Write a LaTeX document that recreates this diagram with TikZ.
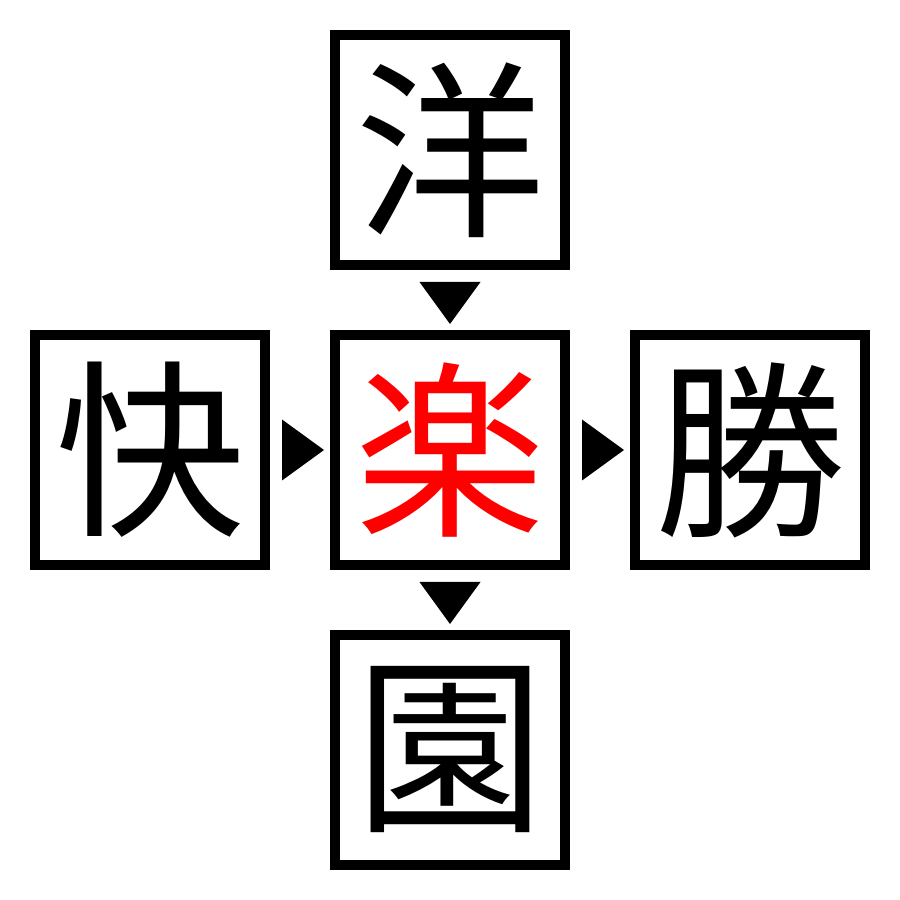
\documentclass[tikz,border=0pt]{standalone}
\usepackage{fontspec}
\newfontfamily\jpfont{Noto Sans CJK JP}
\usetikzlibrary{calc}
\tikzset{
	kanji/.style={draw, line width=0.1cm, minimum size=2.3cm, inner sep=0, outer sep=0,
		font=\jpfont\fontsize{54}{54}\selectfont}
}
\begin{document}
\begin{tikzpicture}[x=0.01cm, y=0.01cm]
		\useasboundingbox (0,0) rectangle (900,900);

		\node[kanji] (Y) at (450, 750) {洋};
		\node[kanji] (K) at (150, 450) {快};
		\node[kanji, text=red] (R) at (450, 450) {楽};
		\node[kanji] (S) at (750, 450) {勝};
		\node[kanji] (E) at (450, 150) {園};

		\foreach \source/\dest/\ang in {Y/R/-90, R/E/-90, K/R/0, R/S/0}
		\fill[shift={($(\source)!0.5!(\dest)$)}, rotate=\ang] (-18, -30.5) -- (24, 0) -- (-18, 30.5) -- cycle;

	\end{tikzpicture}
\end{document}
